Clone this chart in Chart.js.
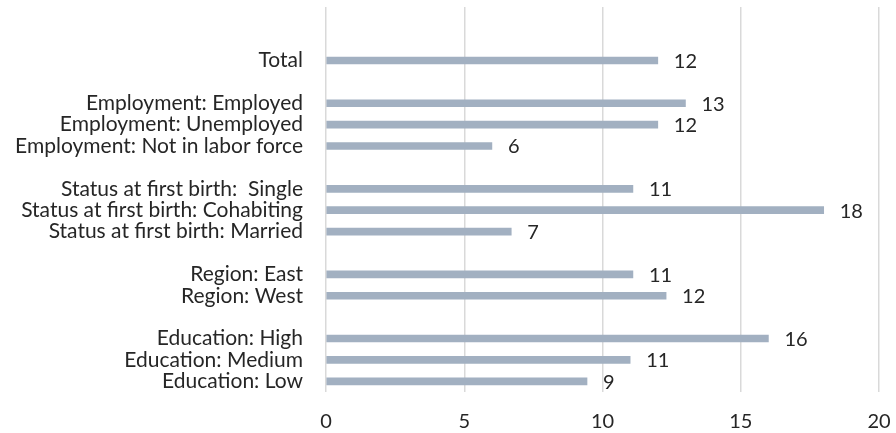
<!DOCTYPE html>
<html>
<head>
<meta charset="utf-8">
<script src="https://cdn.jsdelivr.net/npm/chart.js@4/dist/chart.umd.min.js"></script>
<style>
html,body{margin:0;padding:0;background:#fff;}
#wrap{width:896px;height:433px;position:relative;}
</style>
</head>
<body>
<div id="wrap"><canvas id="c"></canvas></div>
<script>
const categories = [
  '', '', 'Total', '',
  'Employment: Employed', 'Employment: Unemployed', 'Employment: Not in labor force', '',
  'Status at first birth:  Single', 'Status at first birth: Cohabiting', 'Status at first birth: Married', '',
  'Region: East', 'Region: West', '',
  'Education: High', 'Education: Medium', 'Education: Low'
];
const values = [
  null, null, 12.0, null,
  13.0, 12.0, 6.0, null,
  11.1, 18.0, 6.7, null,
  11.1, 12.3, null,
  16.0, 11.0, 9.44
];
const xTicks = [0, 5, 10, 15, 20];

const FONT = 'Lato';
const valueLabels = {
  id: 'valueLabels',
  afterDatasetsDraw(chart) {
    const ctx = chart.ctx;
    const meta = chart.getDatasetMeta(0);
    ctx.save();
    ctx.font = '20px ' + FONT;
    ctx.fillStyle = '#262626';
    ctx.textAlign = 'left';
    ctx.textBaseline = 'middle';
    meta.data.forEach((el, i) => {
      const v = values[i];
      if (v === null || v === undefined) return;
      ctx.fillText(String(Math.round(v)), el.x + 16, el.y + 1);
    });
    ctx.restore();
  }
};

new Chart(document.getElementById('c'), {
  type: 'bar',
  data: {
    labels: categories,
    datasets: [{
      data: values,
      backgroundColor: '#A2B0C1',
      barThickness: 7,
      borderWidth: 0
    }]
  },
  options: {
    indexAxis: 'y',
    responsive: true,
    maintainAspectRatio: false,
    animation: false,
    layout: { padding: { top: 7, right: 17, left: 0, bottom: 0 } },
    plugins: { legend: { display: false }, tooltip: { enabled: false } },
    scales: {
      x: {
        min: 0, max: 20,
        afterBuildTicks(scale) { scale.ticks = xTicks.map(v => ({ value: v })); },
        afterFit(scale) { scale.height = 41; scale.paddingLeft = 0; scale.paddingRight = 0; },
        grid: { color: '#D9D9D9', lineWidth: 1.5, drawTicks: false },
        border: { display: false },
        ticks: { padding: 18, color: '#262626', font: { family: FONT, size: 20 } }
      },
      y: {
        afterFit(scale) { scale.width = 326; scale.paddingTop = 0; scale.paddingBottom = 0; },
        grid: { display: false, drawTicks: false },
        border: { display: false },
        ticks: { autoSkip: false, padding: 23, color: '#262626', font: { family: FONT, size: 21 } }
      }
    }
  },
  plugins: [valueLabels]
});
</script>
</body>
</html>
